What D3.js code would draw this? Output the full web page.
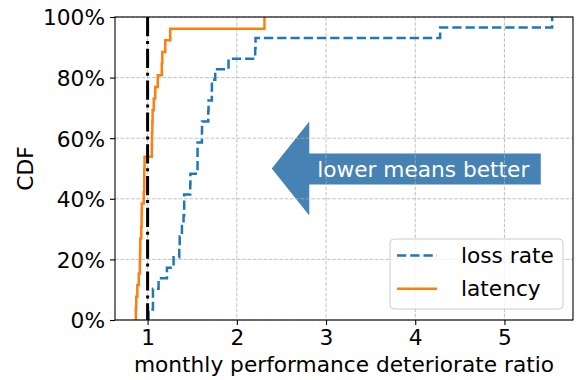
<!DOCTYPE html>
<html>
<head>
<meta charset="utf-8">
<script src="https://cdn.jsdelivr.net/npm/d3@7"></script>
<style>
  body { margin: 0; background: #fff; }
  text { font-family: 'DejaVu Sans', sans-serif; }
</style>
</head>
<body>
<svg id="svg"></svg>
<script>
// sorted monthly ratios, one per sample
const lossRate = [1.011, 1.06, 1.06, 1.123, 1.217, 1.291, 1.355, 1.36, 1.385, 1.403,
  1.41, 1.41, 1.478, 1.48, 1.56, 1.56, 1.56, 1.609, 1.61, 1.683,
  1.68, 1.721, 1.72, 1.758, 1.907, 2.206, 2.21, 4.279, 5.535]
const latency = [0.868, 0.873, 0.885, 0.901, 0.913, 0.916, 0.918, 0.929, 0.933, 0.935,
  0.957, 0.963, 0.963, 0.966, 1.047, 1.049, 1.053, 1.056, 1.069, 1.086,
  1.114, 1.159, 1.165, 1.198, 1.254, 2.31]
const seriesNames = ['loss rate', 'latency']
const xTicks = [1, 2, 3, 4, 5]
const yTicks = [0, 0.2, 0.4, 0.6, 0.8, 1]
const refLine = 1
const arrowLabel = 'lower means better'

const width = 577
const height = 380
const padding = { top: 17, right: 4, bottom: 60, left: 115 }
const chartArea = {
  width: width - padding.left - padding.right,
  height: height - padding.top - padding.bottom
}
const fontSize = 21.7

const svg = d3.select('#svg')
  .attr('width', width)
  .attr('height', height)

// matplotlib style 5% margins
const all = lossRate.concat(latency)
const lo = d3.min(all), hi = d3.max(all)
const pad = (hi - lo) * 0.05
const xScale = d3.scaleLinear().domain([lo - pad, hi + pad]).range([0, chartArea.width])
const yScale = d3.scaleLinear().domain([0, 1]).range([chartArea.height, 0])

const g = svg.append('g')
  .attr('transform', 'translate(' + padding.left + ',' + padding.top + ')')

// arrow annotation (left arrow box around the text)
const ax = xScale(4.09), ay = yScale(0.5)
const body = { left: -114, right: 117.5, top: -15, bottom: 16 }
const headTip = -151.5, headHalf = 47
const arrowPts = [
  [headTip, 0], [body.left, -headHalf], [body.left, body.top], [body.right, body.top],
  [body.right, body.bottom], [body.left, body.bottom], [body.left, headHalf]
].map(p => [ax + p[0], ay + p[1]])
g.append('polygon')
  .attr('points', arrowPts.map(p => p.join(',')).join(' '))
  .attr('fill', '#4682b4')

// grid
const grid = g.append('g').attr('stroke', '#b0b0b0').attr('stroke-width', 0.9)
  .attr('stroke-dasharray', '3.7,1.6').attr('opacity', 0.85)
grid.selectAll('.gx').data(xTicks).enter().append('line')
  .attr('x1', d => xScale(d)).attr('x2', d => xScale(d))
  .attr('y1', 0).attr('y2', chartArea.height)
grid.selectAll('.gy').data(yTicks).enter().append('line')
  .attr('y1', d => yScale(d)).attr('y2', d => yScale(d))
  .attr('x1', 0).attr('x2', chartArea.width)

g.append('text')
  .attr('x', ax)
  .attr('y', ay + 8)
  .attr('text-anchor', 'middle')
  .attr('fill', '#fff')
  .style('font-size', fontSize + 'px')
  .text(arrowLabel)

// CDF step lines
function cdfPoints (vals) {
  const s = vals.slice().sort((a, b) => a - b)
  const pts = [[s[0], 0]]
  s.forEach((v, i) => pts.push([v, (i + 1) / s.length]))
  return pts
}
const line = d3.line()
  .x(d => xScale(d[0]))
  .y(d => yScale(d[1]))
  .curve(d3.curveStepAfter)

g.append('path')
  .attr('d', line(cdfPoints(lossRate)))
  .attr('fill', 'none')
  .attr('stroke', '#1f77b4')
  .attr('stroke-width', 2.5)
  .attr('stroke-dasharray', '9.25,4')

g.append('path')
  .attr('d', line(cdfPoints(latency)))
  .attr('fill', 'none')
  .attr('stroke', '#ff7f0e')
  .attr('stroke-width', 2.5)

g.append('line')
  .attr('x1', xScale(refLine)).attr('x2', xScale(refLine))
  .attr('y1', 0).attr('y2', chartArea.height)
  .attr('stroke', '#000')
  .attr('stroke-width', 3)
  .attr('stroke-dasharray', '19.2,4.8,3,4.8')

// axes
const xAxis = g.append('g')
  .attr('transform', 'translate(0,' + chartArea.height + ')')
  .call(d3.axisBottom(xScale).tickValues(xTicks).tickFormat(d3.format('d')).tickSizeOuter(0).tickSize(5).tickPadding(5))
const yAxis = g.append('g')
  .call(d3.axisLeft(yScale).tickValues(yTicks).tickFormat(d3.format('.0%')).tickSizeOuter(0).tickSize(5).tickPadding(5))
;[xAxis, yAxis].forEach(a => {
  a.select('.domain').remove()
  a.selectAll('line').attr('stroke', '#000').attr('stroke-width', 1.1)
  a.selectAll('text').style('font-size', fontSize + 'px').attr('fill', '#000')
    .style('font-family', "'DejaVu Sans', sans-serif")
})
yAxis.selectAll('text').attr('dy', '0.36em')

g.append('rect')
  .attr('width', chartArea.width).attr('height', chartArea.height)
  .attr('fill', 'none').attr('stroke', '#000').attr('stroke-width', 1.1)

// labels
svg.append('text')
  .attr('x', padding.left + chartArea.width / 2)
  .attr('y', 372)
  .attr('text-anchor', 'middle')
  .style('font-size', fontSize + 'px')
  .text('monthly performance deteriorate ratio')
svg.append('text')
  .attr('transform', 'translate(33,' + (padding.top + chartArea.height / 2) + ') rotate(-90)')
  .attr('text-anchor', 'middle')
  .style('font-size', fontSize + 'px')
  .text('CDF')

// legend
const legend = g.append('g')
  .attr('transform', 'translate(' + (chartArea.width - 183) + ',' + (chartArea.height - 81) + ')')
legend.append('rect')
  .attr('width', 173).attr('height', 70).attr('rx', 4)
  .attr('fill', '#fff').attr('fill-opacity', 0.8)
  .attr('stroke', '#cccccc')
const items = [
  { name: seriesNames[0], color: '#1f77b4', dash: '9.25,4' },
  { name: seriesNames[1], color: '#ff7f0e', dash: null }
]
items.forEach((it, i) => {
  const yy = 16.5 + i * 33.3
  legend.append('line')
    .attr('x1', 7).attr('x2', 47).attr('y1', yy).attr('y2', yy)
    .attr('stroke', it.color).attr('stroke-width', 2.5)
    .attr('stroke-dasharray', it.dash)
  legend.append('text')
    .attr('x', 71).attr('y', yy + 7.5)
    .style('font-size', fontSize + 'px')
    .text(it.name)
})
</script>
</body>
</html>
